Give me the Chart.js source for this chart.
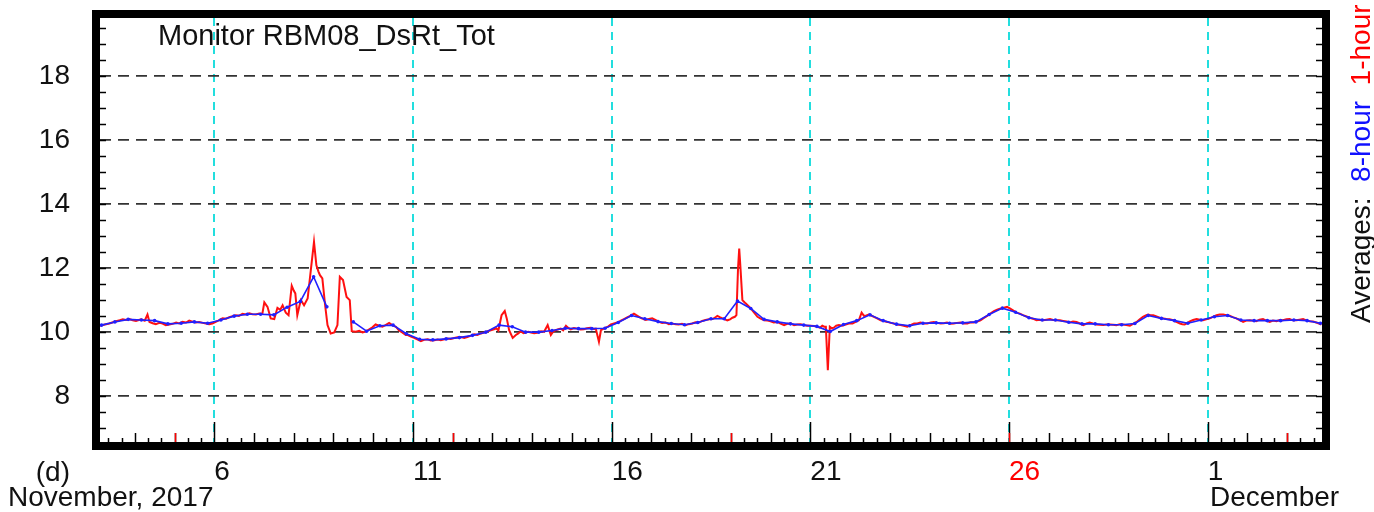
<!DOCTYPE html>
<html>
<head>
<meta charset="utf-8">
<script src="https://cdn.jsdelivr.net/npm/chart.js@4.4.1/dist/chart.umd.min.js"></script>
<style>
  html, body { margin: 0; padding: 0; background: #fff; }
  #wrap { width: 1374px; height: 512px; position: relative; }
</style>
</head>
<body>
<div id="wrap"><canvas id="chart"></canvas></div>
<script>
// ---- data (x = day of November; December days continue as 31, 32, 33) ----
const xMin = 3.125, xMax = 33.875;
const yMin = 6.57, yMax = 19.81;
const xMajor = [6, 11, 16, 21, 26, 31];
const yMajor = [8, 10, 12, 14, 16, 18];
const sundays = [5, 12, 19, 26, 33];

// 1-hour averages (red)
const redDay = [
  3.125, 3.25, 3.36, 3.45, 3.53, 3.62, 3.70, 3.78, 3.86, 3.95, 4.03, 4.10, 4.16, 4.25, 4.32, 4.37, 4.45, 4.53,
  4.62, 4.70, 4.78, 4.87, 4.95, 5.04, 5.12, 5.20, 5.29, 5.37, 5.45, 5.54, 5.62, 5.71, 5.79, 5.87, 5.95, 6.00,
  6.10, 6.21, 6.30, 6.38, 6.46, 6.54, 6.62, 6.71, 6.80, 6.88, 6.96, 7.05, 7.13, 7.21, 7.26, 7.34, 7.42, 7.51,
  7.59, 7.66, 7.72, 7.80, 7.87, 7.95, 8.00, 8.04, 8.09, 8.14, 8.18, 8.26, 8.35, 8.43, 8.51, 8.57, 8.62, 8.66,
  8.72, 8.79, 8.85, 8.93, 9.02, 9.10, 9.16, 9.24, 9.33, 9.41, 9.46, 9.56, 9.65, 9.73, 9.81, 9.90, 9.98, 10.06,
  10.15, 10.23, 10.31, 10.40, 10.48, 10.57, 10.65, 10.73, 10.82, 10.87, 10.95, 11.03, 11.12, 11.20, 11.28, 11.37,
  11.45, 11.54, 11.62, 11.70, 11.79, 11.87, 11.95, 12.04, 12.12, 12.21, 12.29, 12.37, 12.46, 12.54, 12.62, 12.71,
  12.79, 12.88, 12.96, 13.04, 13.10, 13.15, 13.23, 13.31, 13.36, 13.42, 13.51, 13.59, 13.65, 13.71, 13.78, 13.84,
  13.90, 13.97, 14.05, 14.13, 14.22, 14.30, 14.39, 14.47, 14.53, 14.59, 14.66, 14.72, 14.78, 14.85, 14.91, 14.97,
  15.05, 15.14, 15.22, 15.30, 15.38, 15.47, 15.54, 15.60, 15.68, 15.73, 15.79, 15.85, 15.92, 15.98, 16.06, 16.14,
  16.22, 16.31, 16.39, 16.47, 16.56, 16.62, 16.69, 16.77, 16.86, 16.94, 17.02, 17.10, 17.19, 17.27, 17.36, 17.44,
  17.52, 17.61, 17.69, 17.77, 17.86, 17.94, 18.03, 18.11, 18.19, 18.28, 18.36, 18.45, 18.54, 18.60, 18.66, 18.72,
  18.79, 18.85, 18.91, 18.98, 19.04, 19.10, 19.14, 19.18, 19.21, 19.24, 19.29, 19.33, 19.37, 19.44, 19.50, 19.58,
  19.67, 19.75, 19.84, 19.92, 20.00, 20.08, 20.17, 20.25, 20.34, 20.42, 20.51, 20.59, 20.67, 20.76, 20.84, 20.92,
  21.01, 21.09, 21.18, 21.24, 21.30, 21.35, 21.39, 21.44, 21.49, 21.54, 21.59, 21.65, 21.72, 21.80, 21.89, 21.97,
  22.06, 22.14, 22.22, 22.29, 22.35, 22.41, 22.47, 22.53, 22.60, 22.68, 22.77, 22.85, 22.94, 23.02, 23.10, 23.18,
  23.27, 23.35, 23.44, 23.52, 23.61, 23.69, 23.77, 23.86, 23.94, 24.03, 24.11, 24.19, 24.28, 24.36, 24.44, 24.53,
  24.61, 24.69, 24.78, 24.86, 24.95, 25.03, 25.11, 25.20, 25.28, 25.36, 25.45, 25.53, 25.62, 25.70, 25.79, 25.87,
  25.95, 26.02, 26.10, 26.19, 26.27, 26.35, 26.44, 26.52, 26.60, 26.69, 26.77, 26.86, 26.94, 27.03, 27.11, 27.20,
  27.28, 27.36, 27.45, 27.53, 27.61, 27.70, 27.78, 27.87, 27.95, 28.03, 28.11, 28.20, 28.28, 28.37, 28.45, 28.54,
  28.62, 28.70, 28.79, 28.87, 28.95, 29.04, 29.12, 29.21, 29.29, 29.37, 29.44, 29.50, 29.56, 29.63, 29.71, 29.79,
  29.88, 29.96, 30.04, 30.13, 30.21, 30.30, 30.36, 30.42, 30.49, 30.55, 30.63, 30.72, 30.80, 30.88, 30.96, 31.05,
  31.13, 31.22, 31.30, 31.39, 31.47, 31.55, 31.63, 31.72, 31.80, 31.89, 31.97, 32.06, 32.14, 32.22, 32.30, 32.39,
  32.47, 32.56, 32.64, 32.73, 32.81, 32.89, 32.98, 33.06, 33.14, 33.23, 33.31, 33.40, 33.48, 33.56, 33.65, 33.73,
  33.80, 33.86
];
const redVal = [
  10.20, 10.24, 10.27, 10.31, 10.34, 10.37, 10.40, 10.38, 10.41, 10.37, 10.35, 10.38, 10.40, 10.36, 10.55, 10.32, 10.28, 10.25,
  10.29, 10.27, 10.22, 10.24, 10.26, 10.30, 10.27, 10.32, 10.30, 10.36, 10.33, 10.30, 10.32, 10.29, 10.27, 10.25, 10.27, 10.30,
  10.36, 10.43, 10.42, 10.47, 10.50, 10.53, 10.51, 10.57, 10.55, 10.59, 10.56, 10.55, 10.58, 10.57, 10.93, 10.79, 10.43, 10.41,
  10.76, 10.70, 10.84, 10.61, 10.53, 11.45, 11.30, 11.21, 10.53, 10.80, 11.00, 10.84, 11.05, 11.94, 12.82, 12.09, 11.90, 11.78,
  11.68, 10.84, 10.22, 9.96, 9.99, 10.22, 11.73, 11.63, 11.10, 11.00, 10.03, 10.01, 10.04, 9.99, 10.02, 10.09, 10.15, 10.24,
  10.20, 10.17, 10.22, 10.29, 10.22, 10.17, 10.05, 9.99, 9.91, 9.91, 9.86, 9.82, 9.77, 9.72, 9.76, 9.78,
  9.74, 9.75, 9.77, 9.75, 9.78, 9.80, 9.79, 9.82, 9.84, 9.85, 9.82, 9.85, 9.89, 9.93, 9.91, 9.96,
  9.99, 10.03, 10.06, 10.09, 10.12, 10.05, 10.53, 10.66, 10.43, 10.06, 9.82, 9.91, 9.96, 10.03, 9.97, 9.99,
  10.01, 9.99, 9.97, 9.98, 10.03, 10.01, 10.22, 9.91, 10.02, 10.06, 10.09, 10.11, 10.06, 10.20, 10.13, 10.09,
  10.13, 10.11, 10.08, 10.09, 10.12, 10.14, 10.10, 10.11, 9.70, 10.06, 10.10, 10.14, 10.18, 10.24, 10.27, 10.30,
  10.35, 10.41, 10.46, 10.51, 10.58, 10.53, 10.48, 10.42, 10.38, 10.41, 10.43, 10.38, 10.32, 10.29, 10.30, 10.25,
  10.27, 10.25, 10.24, 10.26, 10.22, 10.25, 10.27, 10.31, 10.30, 10.35, 10.38, 10.40, 10.41, 10.45, 10.51, 10.47,
  10.43, 10.40, 10.37, 10.40, 10.45, 10.48, 10.53, 11.99, 12.61, 12.04, 11.00, 10.95, 10.90, 10.82, 10.74, 10.62,
  10.48, 10.42, 10.37, 10.36, 10.34, 10.30, 10.32, 10.27, 10.22, 10.26, 10.27, 10.22, 10.24, 10.25, 10.22, 10.20,
  10.20, 10.19, 10.17, 10.14, 10.20, 10.17, 10.17, 8.81, 10.17, 10.12, 10.14, 10.20, 10.22, 10.20, 10.24, 10.27,
  10.27, 10.32, 10.37, 10.61, 10.51, 10.52, 10.55, 10.52, 10.48, 10.43, 10.37, 10.35, 10.32, 10.29, 10.27, 10.24,
  10.22, 10.20, 10.17, 10.22, 10.27, 10.27, 10.30, 10.27, 10.27, 10.30, 10.32, 10.29, 10.27, 10.28, 10.30, 10.26,
  10.27, 10.29, 10.30, 10.27, 10.27, 10.31, 10.30, 10.33, 10.37, 10.44, 10.51, 10.58, 10.66, 10.70, 10.74, 10.76,
  10.79, 10.74, 10.68, 10.61, 10.58, 10.53, 10.49, 10.45, 10.42, 10.37, 10.39, 10.37, 10.39, 10.41, 10.38, 10.37,
  10.37, 10.35, 10.33, 10.30, 10.33, 10.32, 10.27, 10.22, 10.27, 10.30, 10.27, 10.24, 10.23, 10.22, 10.24, 10.24,
  10.23, 10.22, 10.25, 10.24, 10.22, 10.20, 10.26, 10.32, 10.40, 10.48, 10.52, 10.55, 10.53, 10.53, 10.49, 10.45,
  10.43, 10.41, 10.40, 10.37, 10.32, 10.27, 10.25, 10.24, 10.29, 10.34, 10.38, 10.41, 10.39, 10.37, 10.40, 10.43,
  10.48, 10.53, 10.55, 10.55, 10.53, 10.51, 10.47, 10.43, 10.38, 10.32, 10.36, 10.37, 10.36, 10.34, 10.39, 10.41,
  10.36, 10.32, 10.36, 10.34, 10.38, 10.37, 10.40, 10.41, 10.37, 10.37, 10.39, 10.41, 10.37, 10.34, 10.33, 10.30,
  10.27, 10.24
];

// 8-hour averages (blue), one value per 8-hour block starting Nov 3 00:00
const blueVal = [
  10.22, 10.32, 10.40,  10.38, 10.36, 10.26,  10.28, 10.32, 10.28,  10.38, 10.50, 10.56,
  10.56, 10.54, 10.78,  10.96, 11.73, 10.79,  null, 10.32, 10.03,   10.20, 10.22, 9.95,
  9.78, 9.76, 9.79,     9.83, 9.90, 10.00,    10.22, 10.17, 10.00,  10.00, 10.05, 10.12,
  10.11, 10.11, 10.12,  10.30, 10.52, 10.42,  10.33, 10.27, 10.23,  10.30, 10.42, 10.42,
  10.97, 10.74, 10.40,  10.32, 10.26, 10.22,  10.18, 10.02, 10.24,  10.36, 10.54, 10.36,
  10.25, 10.20, 10.28,  10.29, 10.28, 10.29,  10.32, 10.55, 10.75,  10.62, 10.45, 10.38,
  10.38, 10.31, 10.26,  10.26, 10.23, 10.23,  10.27, 10.52, 10.43,  10.36, 10.28, 10.38,
  10.48, 10.52, 10.38,  10.36, 10.36, 10.36,  10.38, 10.36, 10.28
];

const FONT = "'Liberation Sans', Arial, sans-serif";
const TEXT = '#111';

// block i is plotted at the middle of its 8-hour window
const blueDay = blueVal.map((_, i) => 3 + (i * 8 + 4) / 24);

function seg(ctx, x1, y1, x2, y2) {
  ctx.beginPath();
  ctx.moveTo(x1, y1);
  ctx.lineTo(x2, y2);
  ctx.stroke();
}

// ---- frame, tick marks and labels ----
const decorPlugin = {
  id: 'decor',
  afterDraw(chart) {
    const { ctx, chartArea: a, scales: { x, y } } = chart;
    ctx.save();

    // bottom ticks: every 8 hours, taller at days, tallest at labelled days
    ctx.lineWidth = 1.5;
    for (let k = Math.ceil(xMin * 3); k <= Math.floor(xMax * 3); k++) {
      const px = Math.round(x.getPixelForValue(k / 3)) + 0.5;
      const isDay = k % 3 === 0;
      const day = k / 3;
      const len = isDay && xMajor.includes(day) ? 20 : isDay ? 9 : 4;
      ctx.strokeStyle = '#000';
      seg(ctx, px, a.bottom, px, a.bottom - len);
      if (isDay && sundays.includes(day)) {
        ctx.strokeStyle = '#ff0000';
        seg(ctx, px, a.bottom, px, a.bottom - 9);
      }
    }

    // side ticks every 0.5
    ctx.strokeStyle = '#000';
    for (let k = Math.ceil(yMin * 2); k <= Math.floor(yMax * 2); k++) {
      const py = Math.round(y.getPixelForValue(k / 2)) + 0.5;
      seg(ctx, a.left, py, a.left + 6, py);
      seg(ctx, a.right - 6, py, a.right, py);
    }

    // thick frame
    ctx.lineWidth = 8;
    ctx.strokeStyle = '#000';
    ctx.strokeRect(a.left - 4, a.top - 4, a.right - a.left + 8, a.bottom - a.top + 8);

    // texts
    ctx.fillStyle = TEXT;
    ctx.textBaseline = 'alphabetic';
    ctx.font = '29px ' + FONT;
    ctx.textAlign = 'left';
    ctx.fillText('Monitor RBM08_DsRt_Tot', 158, 45);

    ctx.font = '28px ' + FONT;
    ctx.textAlign = 'right';
    ctx.fillText('(d)', 70, 481);
    ctx.textAlign = 'left';
    ctx.fillText('November, 2017', 8, 506);
    ctx.fillText('December', 1210, 506);

    // rotated legend on the right
    ctx.translate(1370, 323);
    ctx.rotate(-Math.PI / 2);
    ctx.textAlign = 'left';
    const parts = [['Averages:  ', TEXT], ['8-hour', '#1010ff'], ['  ', TEXT], ['1-hour', '#ff0000']];
    let off = 0;
    for (const [t, c] of parts) {
      ctx.fillStyle = c;
      ctx.fillText(t, off, 0);
      off += ctx.measureText(t).width;
    }
    ctx.restore();
  }
};

new Chart(document.getElementById('chart'), {
  type: 'line',
  data: {
    datasets: [
      {
        label: '8-hour',
        data: blueVal.map((v, i) => ({ x: blueDay[i], y: v })),
        borderColor: '#2020ff',
        backgroundColor: '#2020ff',
        borderWidth: 1.6,
        pointRadius: 1.8,
        pointBorderWidth: 0,
        spanGaps: false,
        order: 0,
      },
      {
        label: '1-hour',
        data: redVal.map((v, i) => ({ x: redDay[i], y: v })),
        borderColor: '#ff1010',
        borderWidth: 2,
        pointRadius: 0,
        order: 1,
      },
    ],
  },
  options: {
    responsive: true,
    maintainAspectRatio: false,
    animation: false,
    layout: { padding: { top: 18, right: 52, bottom: 0, left: 0 } },
    plugins: { legend: { display: false }, tooltip: { enabled: false } },
    scales: {
      x: {
        type: 'linear',
        min: xMin,
        max: xMax,
        afterBuildTicks: s => { s.ticks = xMajor.map(v => ({ value: v })); },
        afterFit: s => { s.height = 70; s.paddingLeft = 0; s.paddingRight = 0; },
        ticks: {
          align: 'start',
          padding: 13,
          maxRotation: 0,
          autoSkip: false,
          font: { family: FONT, size: 28 },
          color: c => (c.tick && c.tick.value === 26 ? '#ff0000' : TEXT),
          callback: v => (v > 30 ? v - 30 : v),
        },
        grid: { color: '#22dede', lineWidth: 2, drawTicks: false },
        border: { display: false, dash: [8, 6] },
      },
      y: {
        min: yMin,
        max: yMax,
        afterBuildTicks: s => { s.ticks = yMajor.map(v => ({ value: v })); },
        afterFit: s => { s.width = 100; s.paddingTop = 0; s.paddingBottom = 0; },
        ticks: {
          padding: 30,
          font: { family: FONT, size: 28 },
          color: TEXT,
        },
        grid: { color: '#333', lineWidth: 1.8, drawTicks: false },
        border: { display: false, dash: [11, 7] },
      },
    },
  },
  plugins: [decorPlugin],
});
</script>
</body>
</html>
